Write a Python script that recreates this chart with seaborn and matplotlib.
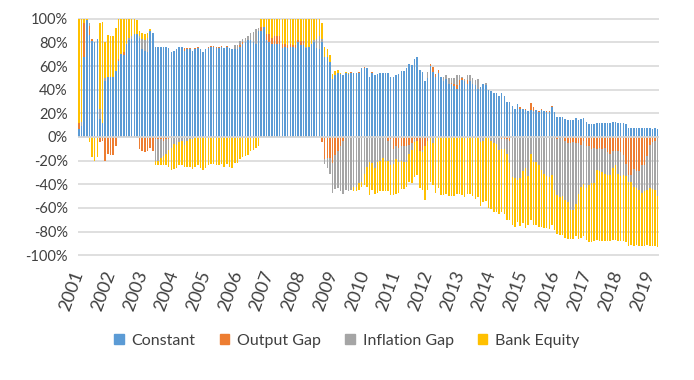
import numpy as np
import matplotlib
matplotlib.use('Agg')
import matplotlib.pyplot as plt
from matplotlib.patches import Patch
import seaborn as sns

sns.set_theme(style="white")
plt.rcParams['font.family'] = ['Lato', 'DejaVu Sans']

# monthly shares (%), Jan 2001 .. Apr 2019
const = [
    7, 9, 68, 99, 86, 81, 80, 83, 15, 12, 47, 51,
    51, 51, 56, 64, 70, 69, 79, 82, 83, 87, 87, 84,
    74, 73, 72, 90, 88, 76, 76, 76, 76, 76, 75, 72,
    73, 74, 76, 76, 73, 74, 74, 73, 74, 75, 74, 72,
    74, 75, 76, 76, 75, 75, 76, 75, 76, 75, 74, 74,
    74, 76, 79, 80, 82, 82, 80, 79, 90, 90, 93, 82,
    80, 79, 79, 79, 79, 75, 76, 75, 76, 76, 75, 80,
    78, 78, 75, 76, 79, 80, 75, 74, 80, 68, 68, 63,
    49, 52, 54, 53, 52, 54, 53, 54, 54, 54, 54, 58,
    58, 58, 51, 54, 52, 53, 54, 54, 54, 54, 51, 51,
    52, 53, 56, 56, 58, 62, 61, 66, 68, 57, 55, 47,
    50, 60, 55, 51, 54, 51, 47, 49, 45, 45, 43, 41,
    44, 48, 47, 45, 47, 45, 44, 41, 42, 45, 44, 40,
    39, 37, 37, 35, 37, 35, 30, 30, 26, 24, 28, 24,
    24, 23, 22, 23, 22, 23, 21, 23, 22, 21, 21, 25,
    21, 17, 17, 17, 15, 14, 14, 14, 16, 14, 15, 16,
    13, 11, 11, 11, 12, 12, 12, 12, 12, 12, 13, 13,
    12, 12, 12, 11, 8, 8, 8, 8, 8, 8, 8, 8,
    8, 7, 8, 7]

output_gap = [
    5, 0, 28, 0, 8, 2, 0, 0, -4, -3, -20, -14,
    -15, -15, -8, 2, 0, 3, 0, 0, 0, 0, 0, -10,
    -12, -13, -12, -9, -12, -2, -2, -2, -3, -2, -2, -1,
    0, 0, 0, 0, 2, 1, 1, 0, 1, 1, 0, 0,
    0, 1, 1, 1, 1, 1, 1, 0, 1, 0, 0, 0,
    0, 2, 1, 0, 0, 0, 0, 0, 0, 3, 0, 5,
    7, 5, 6, 6, 6, 4, 3, 3, 3, 2, 3, 2,
    3, 3, 0, 0, 0, 0, 0, 0, -4, -19, -18, -18,
    -22, -15, -12, -8, -3, 0, 0, 1, 0, 0, 1, 0,
    1, 0, 0, 1, 0, 0, 0, 0, 0, -3, -2, -10,
    -8, -9, -8, -8, -8, -7, -5, -2, -3, -12, -11, -8,
    -3, 2, 4, 2, 3, 0, 0, 0, 0, 1, 2, 3,
    4, 2, 0, 3, 0, 0, 0, 0, 0, 0, 0, 0,
    0, 0, 0, 0, -2, -2, -2, -3, 0, 0, 0, 1,
    0, 1, 0, 6, 3, 0, 1, 1, 0, 1, 1, 1,
    0, -2, -1, 0, -3, -5, -5, -4, -5, -5, -7, -3,
    -8, -8, -10, -9, -10, -9, -10, -9, -13, -14, -12, -12,
    -12, -13, -15, -23, -32, -32, -27, -29, -29, -24, -24, -16,
    -7, -4, -3, -1]

inflation_gap = [
    0, 4, 0, 0, 2, 0, 0, 0, 9, 0, 3, 0,
    0, 0, 0, 0, 0, 0, 0, 2, 2, 0, -1, 1,
    9, 9, 12, 0, 0, -18, -18, -16, -13, -12, -9, -8,
    -6, -7, -4, -3, -7, -3, -2, -2, 0, 0, 0, 0,
    0, 0, 0, 0, 0, 0, 0, 0, 0, 0, 0, 4,
    4, 3, 3, 4, 3, 6, 9, 12, 2, 0, 0, 0,
    0, 0, 0, 0, 0, 0, 0, 0, 0, 0, 0, 0,
    0, 0, 1, 0, 0, 2, 8, 11, 3, -4, -8, -13,
    -25, -29, -31, -38, -45, -45, -46, -45, -42, -42, -39, -38,
    -31, -25, -21, -22, -26, -21, -20, -18, -20, -17, -22, -13,
    -11, -12, -12, -13, -13, -7, -6, -2, 0, 0, -2, 0,
    5, 0, -5, 0, 0, 0, 4, 3, 5, 4, 5, 8,
    4, 1, 2, 4, 5, 5, 4, 8, -4, -3, 2, -1,
    -3, -5, -6, -11, -8, -8, -12, -19, -34, -35, -36, -35,
    -29, -26, -33, -14, -21, -21, -24, -28, -31, -33, -34, -32,
    -45, -47, -50, -50, -50, -50, -57, -58, -52, -43, -35, -37,
    -35, -33, -29, -30, -18, -20, -20, -22, -19, -18, -14, -12,
    -19, -20, -17, -10, -6, -6, -15, -14, -16, -23, -22, -29,
    -36, -40, -42, -49]

bank_equity = [
    88, 87, 4, 1, -4, -17, -20, -17, 72, 85, 30, 35,
    34, 34, 36, 34, 30, 28, 21, 16, 15, 13, 12, 5,
    5, 5, 4, 1, 0, -4, -4, -6, -8, -10, -14, -19,
    -21, -19, -20, -21, -18, -22, -23, -25, -25, -24, -26, -28,
    -26, -24, -23, -23, -24, -24, -23, -25, -23, -25, -26, -22,
    -22, -19, -17, -16, -15, -12, -11, -9, -8, 7, 7, 13,
    13, 16, 15, 15, 15, 21, 21, 22, 21, 22, 22, 18,
    19, 19, 24, 24, 21, 18, 17, 15, 13, 8, 6, 6,
    4, 4, 3, 1, 0, 1, 1, 0, -4, -4, -6, -4,
    -10, -17, -28, -23, -22, -26, -26, -28, -26, -26, -25, -26,
    -29, -26, -24, -23, -21, -24, -28, -30, -29, -31, -32, -45,
    -42, -38, -36, -47, -43, -49, -49, -48, -50, -50, -50, -48,
    -48, -49, -51, -48, -48, -50, -52, -51, -54, -52, -54, -59,
    -58, -58, -57, -54, -53, -55, -56, -48, -40, -41, -36, -40,
    -44, -51, -41, -56, -53, -53, -52, -48, -46, -44, -44, -42,
    -34, -33, -32, -33, -32, -31, -24, -24, -27, -38, -43, -44,
    -44, -48, -50, -49, -59, -59, -58, -57, -56, -56, -61, -63,
    -57, -55, -56, -56, -54, -53, -50, -48, -47, -45, -46, -46,
    -49, -48, -47, -43]

labels = ['Constant', 'Output Gap', 'Inflation Gap', 'Bank Equity']
colors = ['#5B9BD5', '#ED7D31', '#A5A5A5', '#FFC000']
years = list(range(2001, 2020))

vals = np.array([const, output_gap, inflation_gap, bank_equity], dtype=float)
n = vals.shape[1]
idx = np.arange(n)
# excel-style stacking: positives up from 0, negatives down from 0
pos = np.clip(vals, 0, None).cumsum(axis=0)
neg = np.clip(vals, None, 0).cumsum(axis=0)

fig = plt.figure(figsize=(6.94, 3.80), dpi=100)
ax = fig.add_axes([77.5 / 694, 1 - 256 / 380, (659 - 77.5) / 694, (256 - 18) / 380])

# draw outermost layer first, inner ones on top
for k in reversed(range(4)):
    for cum in (pos[k], neg[k]):
        sns.barplot(x=idx, y=cum, color=colors[k], width=0.58, saturation=1,
                    linewidth=0, errorbar=None, native_scale=True, ax=ax)

txt = '#404040'
ax.set_xlim(-0.5, n - 0.5)
ax.set_ylim(-100.6, 100.6)
ax.set_yticks(range(-100, 101, 20))
ax.set_yticklabels(['{}%'.format(v) for v in range(-100, 101, 20)], color=txt, fontsize=10.5)
ax.set_xticks(idx[::12])
ax.set_xticklabels([str(y) for y in years], rotation=70, ha='right', va='center',
                   rotation_mode='anchor', color=txt, fontsize=13)
ax.tick_params(axis='x', length=0, pad=11)
ax.tick_params(axis='y', length=0, pad=7)
ax.set_xlabel('')
ax.set_ylabel('')
ax.yaxis.grid(True, color='#D9D9D9', linewidth=1.2)
ax.xaxis.grid(False)
ax.set_axisbelow(True)
ax.axhline(0, color='#D9D9D9', linewidth=1.2, zorder=5)
for s in ax.spines.values():
    s.set_visible(False)

handles = [Patch(color=c, label=l) for c, l in zip(colors, labels)]
fig.legend(handles=handles, loc='center', bbox_to_anchor=(0.5, 1 - 341 / 380), ncol=4,
           frameon=False, handlelength=0.6, handleheight=0.6, handletextpad=0.5,
           columnspacing=1.5, fontsize=11.5, labelcolor=txt)

fig.savefig('out.png', dpi=100)
